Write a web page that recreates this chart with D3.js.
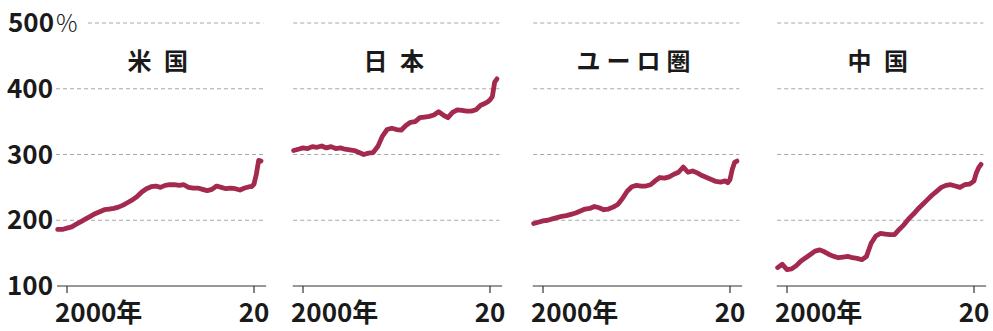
<!DOCTYPE html>
<html><head><meta charset="utf-8">
<script src="https://cdn.jsdelivr.net/npm/d3@7"></script>
<style>
html,body{margin:0;padding:0;background:#fff;}
svg{display:block;}
text{font-family:"Noto Sans CJK JP","Noto Sans",sans-serif;fill:#1a1a1a;}
</style></head><body>
<svg id="chart" width="993" height="331"></svg>
<script>
// ---- data ----
const dates = [1999,1999.5,2000,2000.5,2001,2001.5,2002,2002.5,2003,2003.5,
  2004,2004.5,2005,2005.5,2006,2006.5,2007,2007.5,2008,2008.5,
  2009,2009.5,2010,2010.5,2011,2011.5,2012,2012.5,2013,2013.5,
  2014,2014.5,2015,2015.5,2016,2016.5,2017,2017.5,2018,2018.5,
  2019,2019.5,2019.75,2020,2020.25,2020.5,2020.75];
const panelNames = ["米 国","日 本","ユーロ圏","中 国"];
const usValues = [186,186,188,190,194,198,202,206,210,213,
  216,217,218,220,223,227,231,236,243,248,
  251,252,250,253,254,254,253,254,250,249,
  249,247,245,247,252,250,248,249,248,246,
  249,251,251,255,270,291,290];
const japanValues = [306,308,310,309,312,311,313,310,312,309,
  310,308,307,306,303,300,302,303,312,328,
  338,340,338,337,344,349,350,356,357,358,
  360,365,360,356,364,368,367,366,366,368,
  375,378,380,383,388,410,415];
const euroValues = [195,197,199,200,202,204,206,207,209,211,
  214,217,218,221,219,216,217,220,224,233,
  244,251,253,252,252,254,260,265,264,266,
  270,273,281,273,275,272,268,265,262,259,
  258,260,257,262,278,288,290];
const chinaValues = [128,133,125,126,131,138,143,148,153,155,
  152,148,145,143,144,145,143,142,140,145,
  165,176,180,179,178,178,186,193,202,209,
  217,224,231,238,244,250,253,254,252,250,
  254,255,257,260,272,280,285];
const yTicks = [100,200,300,400,500];
const xTicks = [2000,2020];
const xTickLabels = ["2000年","20"];

const seriesList = [usValues, japanValues, euroValues, chinaValues];

// ---- layout ----
const svg = d3.select("#chart");
const y = d3.scaleLinear().domain([100,500]).range([286,23]);
const tick2000 = [67,303,543,787];
const panelW = 187;
const lineColor = "#a3294f";

// y labels
const yl = svg.append("g");
yTicks.forEach(t=>{
  const tx = yl.append("text").attr("x",53).attr("y",y(t)+9)
    .attr("text-anchor","end").style("font-size","26px").style("font-weight",600)
    .text(t);
  if(t===500){
    tx.attr("text-anchor","start").attr("x",8);
    tx.append("tspan").attr("dx",2).style("font-size","24px").style("font-weight",300).text("%");
  }
});

seriesList.forEach((vals,i)=>{
  const x = d3.scaleLinear().domain([2000,2020]).range([tick2000[i], tick2000[i]+panelW]);
  const g = svg.append("g");
  // gridlines
  yTicks.filter(t=>t>100).forEach(t=>{
    let x1 = i===0 ? 56 : x(1998.95);
    if(i===0 && t===500) x1 = 88;
    g.append("line").attr("x1",x1).attr("x2",x(2021.0))
      .attr("y1",y(t)).attr("y2",y(t))
      .attr("stroke","#a8a8a8").attr("stroke-width",1)
      .attr("stroke-dasharray","4,3");
  });
  // baseline axis
  g.append("line").attr("x1",i===0?57:x(1998.9)).attr("x2",x(2021.3))
    .attr("y1",y(100)).attr("y2",y(100))
    .attr("stroke","#333").attr("stroke-width",1.2);
  xTicks.forEach((t,k)=>{
    g.append("line").attr("x1",x(t)).attr("x2",x(t))
      .attr("y1",y(100)).attr("y2",y(100)+7)
      .attr("stroke","#333").attr("stroke-width",1.2);
    g.append("text").attr("x", k===0 ? x(t)-12 : x(t))
      .attr("y",322).attr("text-anchor",k===0?"start":"middle")
      .style("font-size","26px").style("font-weight",600)
      .text(xTickLabels[k]);
  });
  // title
  g.append("text").attr("x",x(2010)-3).attr("y",70)
    .attr("text-anchor","middle").style("font-size","24px").style("font-weight",600)
    .style("letter-spacing", i===2 ? "6px" : "3.5px")
    .attr("dx", i===2 ? 3 : 2)
    .text(panelNames[i]);
  // line
  const line = d3.line().x((d,j)=>x(dates[j])).y(d=>y(d)).curve(d3.curveLinear);
  g.append("path").datum(vals).attr("d",line)
    .attr("fill","none").attr("stroke",lineColor).attr("stroke-width",4.8)
    .attr("stroke-linejoin","round").attr("stroke-linecap","round");
});
</script>
</body></html>
